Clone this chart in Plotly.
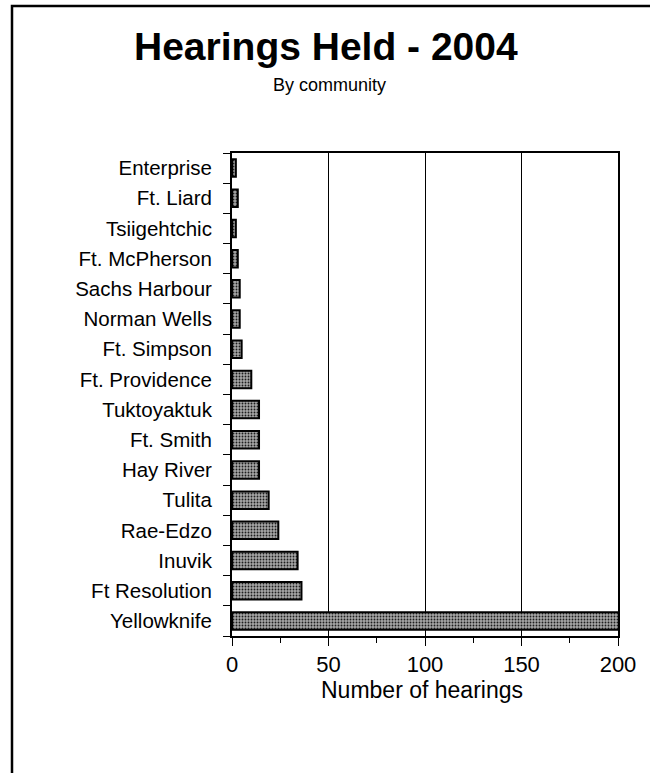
import plotly.graph_objects as go

# Hearings per community, listed top to bottom as shown on the chart
communities = [
    "Enterprise", "Ft. Liard", "Tsiigehtchic", "Ft. McPherson", "Sachs Harbour",
    "Norman Wells", "Ft. Simpson", "Ft. Providence", "Tuktoyaktuk", "Ft. Smith",
    "Hay River", "Tulita", "Rae-Edzo", "Inuvik", "Ft Resolution", "Yellowknife",
]
hearings = [2, 3, 2, 3, 4, 4, 5, 10, 14, 14, 14, 19, 24, 34, 36, 205]

x_ticks = [0, 50, 100, 150, 200]

title_text = "Hearings Held - 2004"
subtitle_text = "By community"
x_title_text = "Number of hearings"

FONT = "Liberation Sans, Arial, sans-serif"
W, H = 650, 773
L, R, T, B = 232, 618, 153, 636  # plot area edges in pixels


def px_x(px):
    return (px - L) / (R - L)


def px_y(py):
    return (B - py) / (B - T)


# Plotly draws categories bottom-up, so reverse to keep Enterprise on top
cats = communities[::-1]
vals = hearings[::-1]

fig = go.Figure(
    go.Bar(
        x=vals,
        y=cats,
        orientation="h",
        marker=dict(
            color="#8c8c8c",
            line=dict(color="black", width=2),
            pattern=dict(shape=".", fgcolor="#1e1e1e", bgcolor="#a6a6a6",
                         size=3, solidity=0.3, fillmode="replace"),
        ),
        hoverinfo="skip",
    )
)

fig.update_layout(
    width=W,
    height=H,
    margin=dict(l=L, r=W - R, t=T, b=H - B, pad=0),
    paper_bgcolor="white",
    plot_bgcolor="white",
    showlegend=False,
    bargap=0.42,
    font=dict(family=FONT, color="black"),
)

fig.update_xaxes(
    range=[0, 200],
    tickvals=x_ticks,
    ticktext=[str(v) for v in x_ticks],
    tickfont=dict(size=22),
    ticks="outside",
    ticklen=8,
    tickwidth=1,
    tickcolor="black",
    ticklabelstandoff=0,
    minor=dict(dtick=25, ticks="outside", ticklen=5, tickcolor="black", showgrid=False),
    showgrid=True,
    gridcolor="black",
    gridwidth=1,
    showline=True,
    linecolor="black",
    linewidth=2,
    mirror=True,
    zeroline=False,
    fixedrange=True,
)

fig.update_yaxes(
    categoryorder="array",
    categoryarray=cats,
    tickfont=dict(size=20.5),
    ticks="outside",
    tickson="boundaries",
    ticklen=7,
    tickwidth=1,
    tickcolor="black",
    ticklabelstandoff=14,
    showgrid=False,
    showline=True,
    linecolor="black",
    linewidth=2,
    mirror=True,
    fixedrange=True,
)

annotations = [
    dict(text=f"<b>{title_text}</b>", x=px_x(326), y=px_y(46), xref="paper", yref="paper",
         xanchor="center", yanchor="middle", showarrow=False, font=dict(size=39)),
    dict(text=subtitle_text, x=px_x(329), y=px_y(85), xref="paper", yref="paper",
         xanchor="center", yanchor="middle", showarrow=False, font=dict(size=18)),
    dict(text=x_title_text, x=px_x(422), y=px_y(690), xref="paper", yref="paper",
         xanchor="center", yanchor="middle", showarrow=False, font=dict(size=23)),
]
fig.update_layout(annotations=annotations)

# Page frame: left and top edges of the surrounding box
fig.add_shape(
    type="rect", xref="paper", yref="paper",
    x0=px_x(12), x1=px_x(660), y0=px_y(800), y1=px_y(6),
    line=dict(color="black", width=2.5), fillcolor="rgba(0,0,0,0)", layer="below",
)

fig.write_html("out.html")
